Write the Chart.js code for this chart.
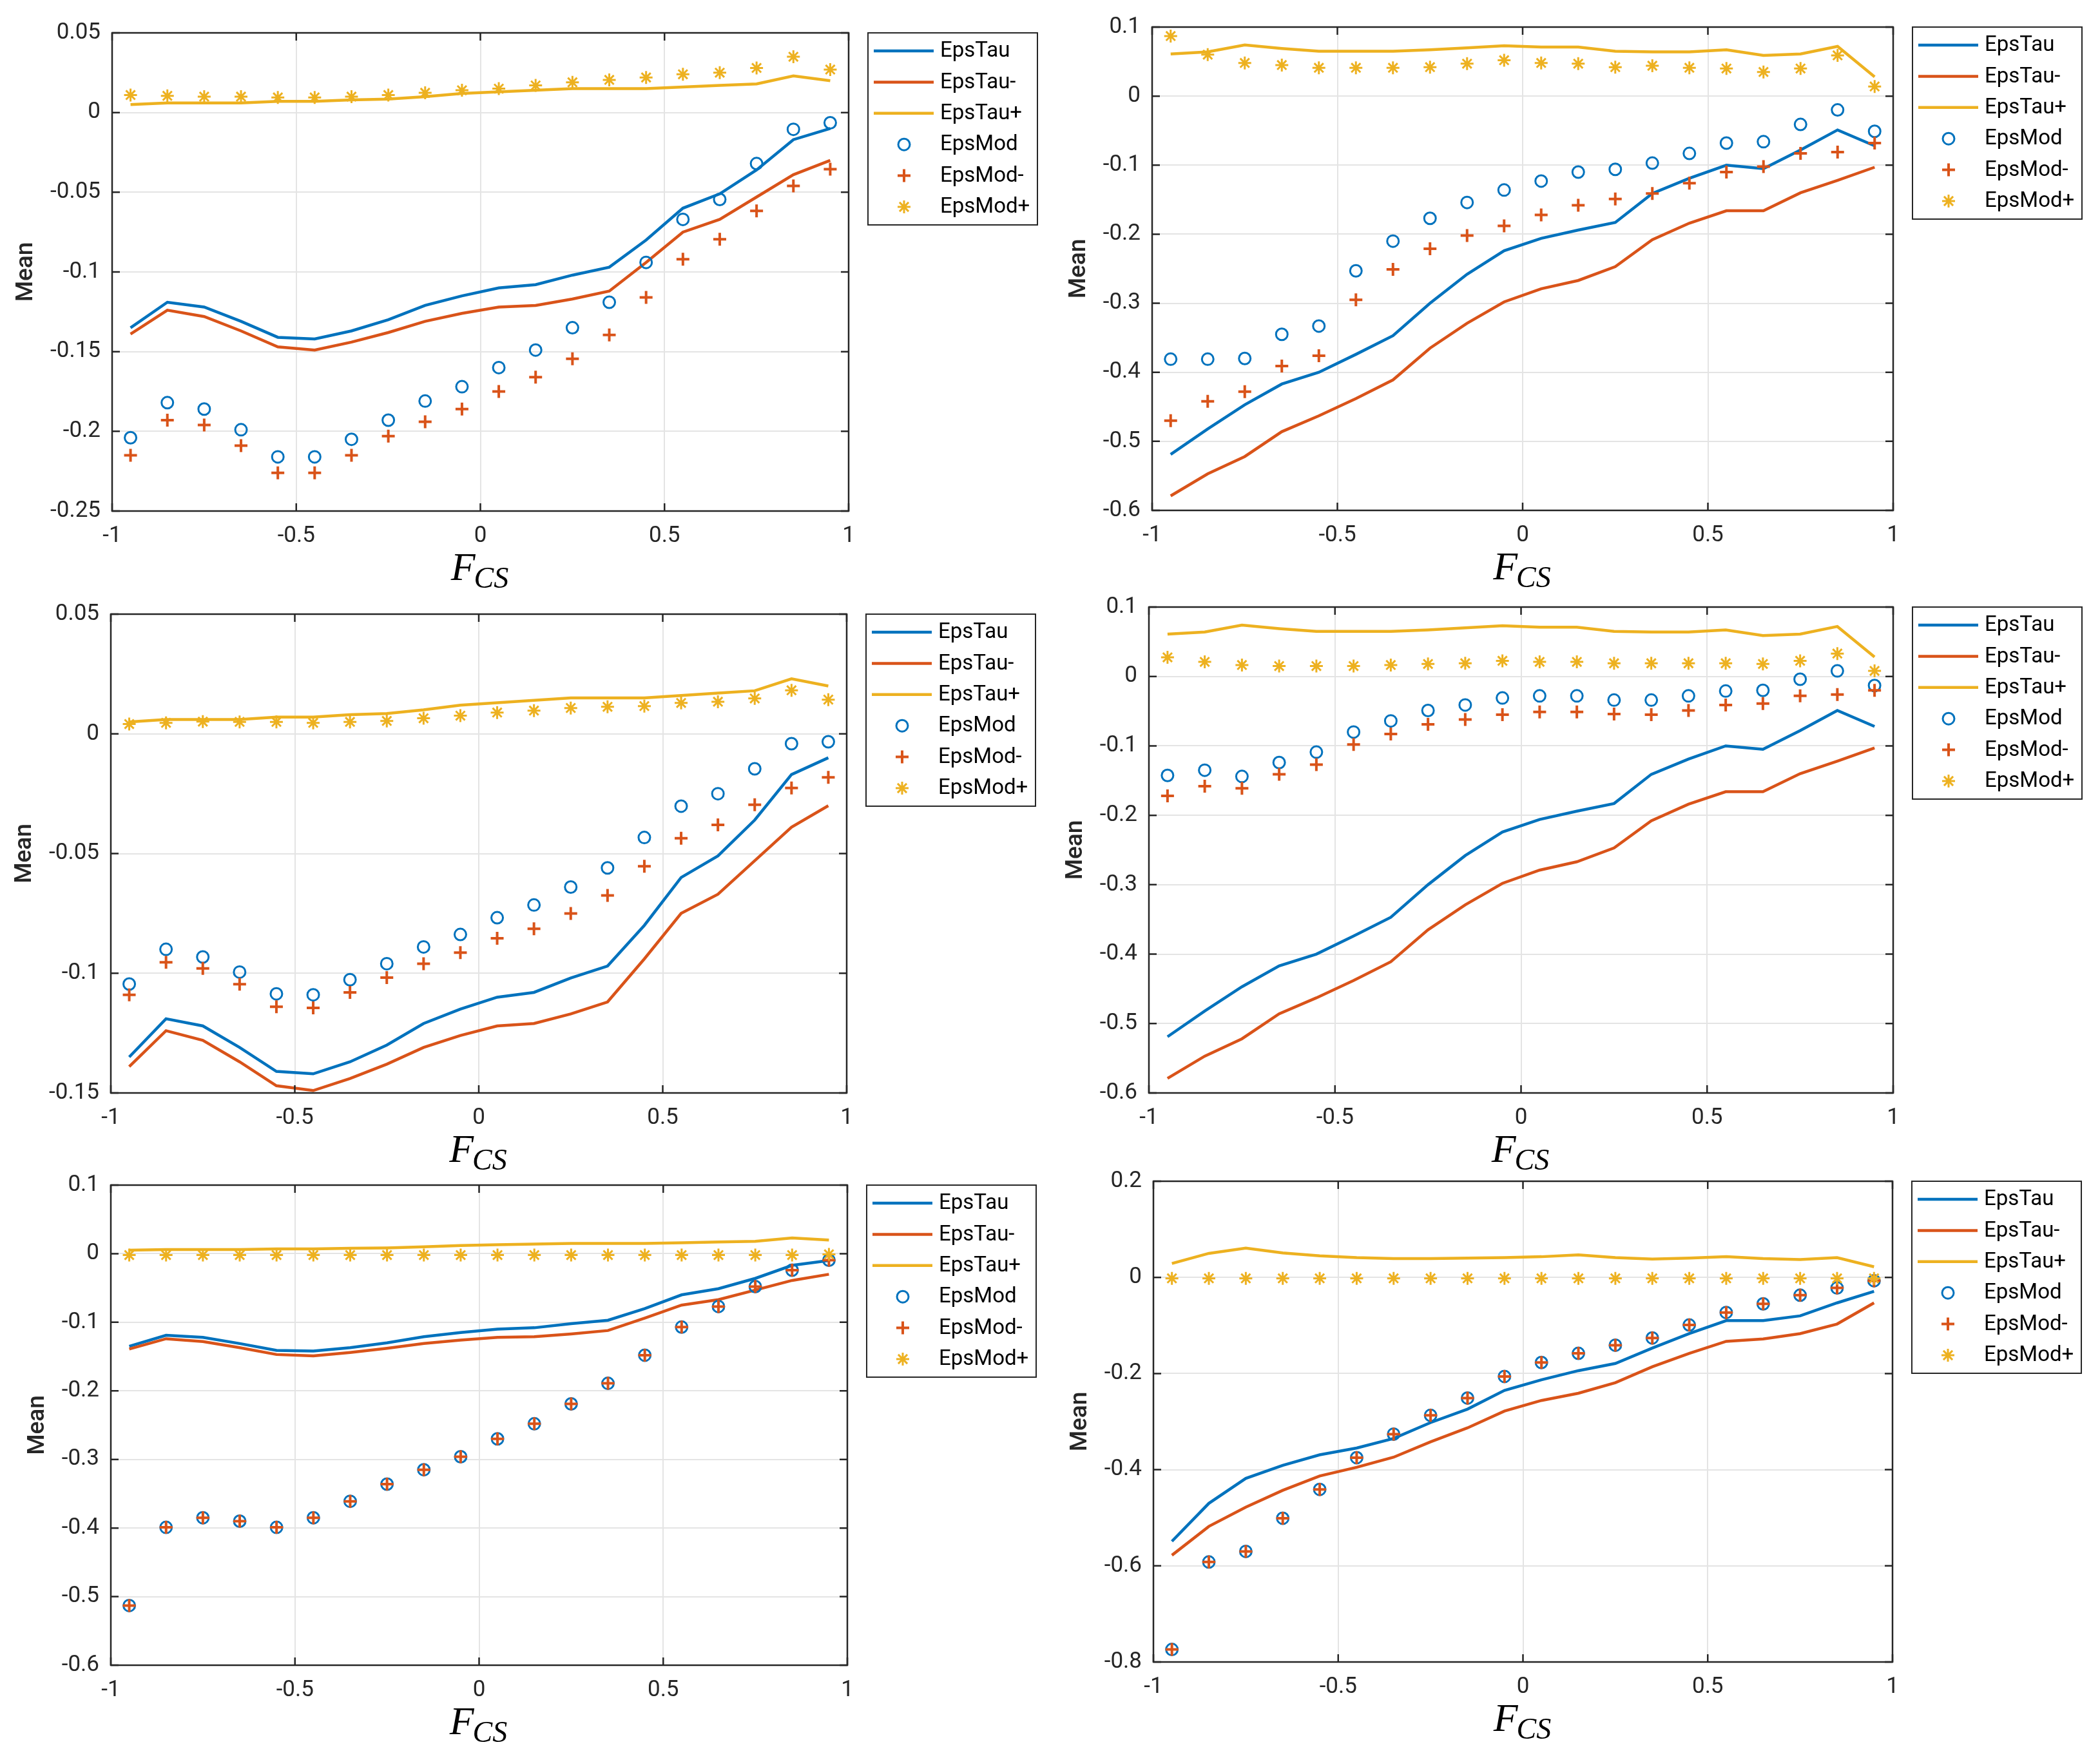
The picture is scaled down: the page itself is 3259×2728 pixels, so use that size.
<!DOCTYPE html>
<html>
<head>
<meta charset="utf-8">
<script src="https://cdn.jsdelivr.net/npm/chart.js@4.4.1/dist/chart.umd.min.js"></script>
<style>
html, body { margin: 0; padding: 0; background: #fff; }
#figure { position: relative; width: 3259px; height: 2728px; background: #fff; overflow: hidden; }
#figure canvas { position: absolute; }
</style>
</head>
<body>
<div id="figure"></div>
<script>
// ── Données ─────────────────────────────────────────────────────────────────

const FCS = [-0.95, -0.85, -0.75, -0.65, -0.55, -0.45, -0.35, -0.25, -0.15, -0.05,
              0.05,  0.15,  0.25,  0.35,  0.45,  0.55,  0.65,  0.75,  0.85,  0.95];

const LIBELLES = ['EpsTau', 'EpsTau-', 'EpsTau+', 'EpsMod', 'EpsMod-', 'EpsMod+'];

// courbes EpsTau communes aux graphiques 1, 3 et 5
const tauA      = [-0.135, -0.119, -0.122, -0.131, -0.141, -0.142, -0.137, -0.130, -0.121, -0.115,
                   -0.110, -0.108, -0.102, -0.097, -0.080, -0.060, -0.051, -0.036, -0.017, -0.010];
const tauAMoins = [-0.139, -0.124, -0.128, -0.137, -0.147, -0.149, -0.144, -0.138, -0.131, -0.126,
                   -0.122, -0.121, -0.117, -0.112, -0.094, -0.075, -0.067, -0.053, -0.039, -0.030];
const tauAPlus  = [0.005, 0.006, 0.006, 0.006, 0.007, 0.007, 0.008, 0.0085, 0.010, 0.012,
                   0.013, 0.014, 0.015, 0.015, 0.015, 0.016, 0.017, 0.018, 0.023, 0.020];

// courbes EpsTau communes aux graphiques 2 et 4
const tauB      = [-0.519, -0.482, -0.447, -0.417, -0.400, -0.374, -0.347, -0.300, -0.258, -0.224,
                   -0.206, -0.194, -0.183, -0.141, -0.119, -0.100, -0.105, -0.078, -0.049, -0.072];
const tauBMoins = [-0.579, -0.547, -0.522, -0.486, -0.463, -0.438, -0.411, -0.365, -0.329, -0.298,
                   -0.279, -0.267, -0.247, -0.208, -0.184, -0.166, -0.166, -0.140, -0.122, -0.103];
const tauBPlus  = [0.061, 0.064, 0.074, 0.069, 0.065, 0.065, 0.065, 0.067, 0.070, 0.073,
                   0.071, 0.071, 0.065, 0.064, 0.064, 0.067, 0.059, 0.061, 0.072, 0.028];

// courbes EpsTau du graphique 6
const tauC      = [-0.549, -0.470, -0.418, -0.391, -0.369, -0.355, -0.335, -0.302, -0.274, -0.235,
                   -0.213, -0.194, -0.179, -0.147, -0.117, -0.090, -0.090, -0.080, -0.053, -0.029];
const tauCMoins = [-0.578, -0.518, -0.478, -0.443, -0.413, -0.395, -0.374, -0.342, -0.313, -0.278,
                   -0.256, -0.241, -0.219, -0.186, -0.158, -0.133, -0.128, -0.117, -0.097, -0.053];
const tauCPlus  = [0.029, 0.050, 0.061, 0.051, 0.045, 0.041, 0.039, 0.039, 0.040, 0.041,
                   0.043, 0.047, 0.041, 0.038, 0.040, 0.043, 0.039, 0.037, 0.041, 0.022];

// marqueurs EpsMod, un trio par graphique
const mod1      = [-0.204, -0.182, -0.186, -0.199, -0.216, -0.216, -0.205, -0.193, -0.181, -0.172,
                   -0.160, -0.149, -0.135, -0.119, -0.094, -0.067, -0.0545, -0.032, -0.0105, -0.0064];
const mod1Moins = [-0.215, -0.193, -0.196, -0.209, -0.226, -0.226, -0.215, -0.203, -0.194, -0.186,
                   -0.175, -0.166, -0.1545, -0.1395, -0.116, -0.092, -0.0795, -0.0617, -0.046, -0.0355];
const mod1Plus  = [0.011, 0.0105, 0.010, 0.010, 0.0095, 0.0095, 0.010, 0.011, 0.0124, 0.014,
                   0.015, 0.017, 0.019, 0.0205, 0.022, 0.024, 0.025, 0.028, 0.035, 0.027];

const mod2      = [-0.381, -0.381, -0.380, -0.345, -0.333, -0.253, -0.210, -0.177, -0.154, -0.136,
                   -0.123, -0.110, -0.106, -0.097, -0.083, -0.068, -0.066, -0.041, -0.020, -0.051];
const mod2Moins = [-0.470, -0.442, -0.428, -0.391, -0.376, -0.295, -0.251, -0.221, -0.202, -0.188,
                   -0.172, -0.158, -0.149, -0.141, -0.126, -0.110, -0.102, -0.083, -0.081, -0.068];
const mod2Plus  = [0.087, 0.060, 0.048, 0.045, 0.041, 0.041, 0.041, 0.042, 0.047, 0.052,
                   0.048, 0.047, 0.042, 0.044, 0.041, 0.040, 0.035, 0.040, 0.059, 0.014];

const mod3      = [-0.1045, -0.090, -0.0932, -0.0995, -0.1086, -0.109, -0.1027, -0.096, -0.089, -0.0838,
                   -0.0768, -0.0715, -0.064, -0.056, -0.0433, -0.0302, -0.025, -0.0146, -0.0041, -0.0033];
const mod3Moins = [-0.109, -0.0954, -0.098, -0.1046, -0.114, -0.1145, -0.108, -0.1018, -0.096, -0.0914,
                   -0.0854, -0.0814, -0.075, -0.0675, -0.0553, -0.0436, -0.038, -0.0296, -0.0226, -0.0182];
const mod3Plus  = [0.0041, 0.0046, 0.0051, 0.005, 0.005, 0.0046, 0.005, 0.0054, 0.0065, 0.0076,
                   0.0089, 0.0097, 0.0108, 0.0113, 0.0116, 0.0129, 0.0134, 0.0148, 0.0182, 0.0143];

const mod4      = [-0.1425, -0.135, -0.144, -0.124, -0.109, -0.080, -0.064, -0.049, -0.041, -0.031,
                   -0.028, -0.028, -0.034, -0.034, -0.028, -0.021, -0.020, -0.004, 0.008, -0.013];
const mod4Moins = [-0.172, -0.158, -0.161, -0.141, -0.127, -0.098, -0.083, -0.069, -0.062, -0.055,
                   -0.051, -0.051, -0.054, -0.055, -0.049, -0.041, -0.039, -0.028, -0.026, -0.020];
const mod4Plus  = [0.0275, 0.021, 0.0165, 0.015, 0.015, 0.015, 0.0165, 0.018, 0.019, 0.0225,
                   0.021, 0.021, 0.019, 0.019, 0.019, 0.019, 0.018, 0.0225, 0.033, 0.008];

const mod5      = [-0.513, -0.399, -0.385, -0.390, -0.399, -0.385, -0.361, -0.336, -0.315, -0.296,
                   -0.270, -0.248, -0.219, -0.189, -0.148, -0.107, -0.077, -0.048, -0.024, -0.0095];
const mod5Moins = [-0.513, -0.399, -0.385, -0.390, -0.399, -0.385, -0.361, -0.336, -0.315, -0.296,
                   -0.270, -0.248, -0.219, -0.189, -0.148, -0.107, -0.077, -0.048, -0.024, -0.0095];
const mod5Plus  = [-0.002, -0.002, -0.002, -0.002, -0.002, -0.002, -0.002, -0.002, -0.002, -0.002,
                   -0.002, -0.002, -0.002, -0.002, -0.002, -0.002, -0.002, -0.002, -0.002, -0.001];

const mod6      = [-0.774, -0.592, -0.570, -0.501, -0.441, -0.375, -0.326, -0.287, -0.251, -0.206,
                   -0.177, -0.158, -0.141, -0.126, -0.099, -0.073, -0.055, -0.037, -0.022, -0.007];
const mod6Moins = [-0.774, -0.592, -0.570, -0.501, -0.441, -0.375, -0.326, -0.287, -0.251, -0.206,
                   -0.177, -0.158, -0.141, -0.126, -0.099, -0.073, -0.055, -0.037, -0.022, -0.007];
const mod6Plus  = [-0.002, -0.002, -0.002, -0.002, -0.002, -0.002, -0.002, -0.002, -0.002, -0.002,
                   -0.002, -0.002, -0.002, -0.002, -0.002, -0.002, -0.002, -0.002, -0.002, -0.002];

// ── Style ───────────────────────────────────────────────────────────────────

const COULEURS = ['#0072BD', '#D95319', '#EDB120'];
const MARQUEURS = ['line', 'line', 'line', 'circle', 'cross', 'star'];
const GRIS_AXE = '#262626';
const POLICE = 'Roboto, "Noto Sans", sans-serif';

// cadre de chaque graphique [gauche, haut, droite, bas] en pixels de la figure
const GRAPHIQUES = [
    { cadre: [174, 51, 1317, 793],    y: [-0.25, 0.05, 0.05], series: [tauA, tauAMoins, tauAPlus, mod1, mod1Moins, mod1Plus] },
    { cadre: [1788, 42, 2938, 792],   y: [-0.6, 0.1, 0.1],    series: [tauB, tauBMoins, tauBPlus, mod2, mod2Moins, mod2Plus] },
    { cadre: [172, 953, 1314, 1696],  y: [-0.15, 0.05, 0.05], series: [tauA, tauAMoins, tauAPlus, mod3, mod3Moins, mod3Plus] },
    { cadre: [1783, 942, 2938, 1696], y: [-0.6, 0.1, 0.1],    series: [tauB, tauBMoins, tauBPlus, mod4, mod4Moins, mod4Plus] },
    { cadre: [172, 1839, 1315, 2584], y: [-0.6, 0.1, 0.1],    series: [tauA, tauAMoins, tauAPlus, mod5, mod5Moins, mod5Plus] },
    { cadre: [1790, 1833, 2937, 2579], y: [-0.8, 0.2, 0.2],   series: [tauC, tauCMoins, tauCPlus, mod6, mod6Moins, mod6Plus] },
];

const MARGE_G = 174, MARGE_H = 50, MARGE_D = 340, MARGE_B = 140;

function formaterTick(v) {
    return String(Math.round(v * 1000) / 1000);
}

function construireJeux(series) {
    return series.map((valeurs, i) => {
        const estLigne = i < 3;
        const couleur = COULEURS[i % 3];
        return {
            label: LIBELLES[i],
            data: FCS.map((x, k) => ({ x, y: valeurs[k] })),
            showLine: estLigne,
            borderColor: couleur,
            backgroundColor: couleur,
            borderWidth: 4.5,
            tension: 0,
            pointStyle: estLigne ? false : MARQUEURS[i],
            pointRadius: estLigne ? 0 : (i === 3 ? 9 : 10),
            pointHoverRadius: estLigne ? 0 : 10,
            pointBorderWidth: i === 4 ? 4 : 3,
            pointBorderColor: couleur,
            pointBackgroundColor: 'rgba(0,0,0,0)',
            order: 6 - i,
        };
    });
}

function dessinerMarqueur(ctx, style, x, y, r) {
    ctx.beginPath();
    if (style === 'circle') {
        ctx.arc(x, y, r, 0, Math.PI * 2);
    } else {
        ctx.moveTo(x - r, y); ctx.lineTo(x + r, y);
        ctx.moveTo(x, y - r); ctx.lineTo(x, y + r);
        if (style === 'star') {
            const d = r * Math.SQRT1_2;
            ctx.moveTo(x - d, y - d); ctx.lineTo(x + d, y + d);
            ctx.moveTo(x - d, y + d); ctx.lineTo(x + d, y - d);
        }
    }
    ctx.stroke();
}

// Cadre, graduations intérieures, titres d'axes et légende façon MATLAB
const habillage = {
    id: 'habillage',
    afterDraw(chart) {
        const { ctx, chartArea: a, scales: { x, y } } = chart;
        ctx.save();

        // graduations vers l'intérieur sur les quatre côtés
        ctx.strokeStyle = GRIS_AXE;
        ctx.lineWidth = 2.5;
        const L = 12;
        ctx.beginPath();
        x.ticks.forEach(t => {
            const px = x.getPixelForValue(t.value);
            ctx.moveTo(px, a.bottom); ctx.lineTo(px, a.bottom - L);
            ctx.moveTo(px, a.top);    ctx.lineTo(px, a.top + L);
        });
        y.ticks.forEach(t => {
            const py = y.getPixelForValue(t.value);
            ctx.moveTo(a.left, py);  ctx.lineTo(a.left + L, py);
            ctx.moveTo(a.right, py); ctx.lineTo(a.right - L, py);
        });
        ctx.stroke();
        ctx.strokeRect(a.left, a.top, a.right - a.left, a.bottom - a.top);

        // titre de l'axe y
        ctx.font = '35px ' + POLICE;
        const largeurMax = Math.max(...y.ticks.map(t => ctx.measureText(formaterTick(t.value)).width));
        const xTitre = a.left - 18 - largeurMax - 37;
        ctx.save();
        ctx.translate(xTitre, (a.top + a.bottom) / 2);
        ctx.rotate(-Math.PI / 2);
        ctx.font = '500 37px ' + POLICE;
        ctx.fillStyle = GRIS_AXE;
        ctx.textAlign = 'center';
        ctx.textBaseline = 'middle';
        ctx.fillText('Mean', 0, 0);
        ctx.restore();

        // titre de l'axe x : F indice CS
        const policeF = 'italic 62px "Liberation Serif", "DejaVu Serif", serif';
        const policeCS = 'italic 46px "Liberation Serif", "DejaVu Serif", serif';
        ctx.font = policeF;
        const lF = ctx.measureText('F').width;
        ctx.font = policeCS;
        const lCS = ctx.measureText('CS').width;
        const debut = (a.left + a.right) / 2 - (lF + lCS) / 2;
        ctx.fillStyle = '#000';
        ctx.textAlign = 'left';
        ctx.textBaseline = 'alphabetic';
        ctx.font = policeF;
        ctx.fillText('F', debut, a.bottom + 107);
        ctx.font = policeCS;
        ctx.fillText('CS', debut + lF - 2, a.bottom + 119);

        // légende
        const bx = a.right + 30, by = a.top, bl = 263, bh = 298;
        ctx.fillStyle = '#fff';
        ctx.fillRect(bx, by, bl, bh);
        ctx.strokeStyle = GRIS_AXE;
        ctx.lineWidth = 2;
        ctx.strokeRect(bx, by, bl, bh);
        ctx.font = '33px ' + POLICE;
        ctx.textBaseline = 'middle';
        chart.data.datasets.forEach((jeu, i) => {
            const ly = by + 28 + i * 48.4;
            ctx.strokeStyle = jeu.borderColor;
            if (jeu.showLine) {
                ctx.lineWidth = jeu.borderWidth;
                ctx.beginPath();
                ctx.moveTo(bx + 9, ly); ctx.lineTo(bx + 102, ly);
                ctx.stroke();
            } else {
                ctx.lineWidth = jeu.pointBorderWidth;
                dessinerMarqueur(ctx, jeu.pointStyle, bx + 56, ly, jeu.pointRadius);
            }
            ctx.fillStyle = '#000';
            ctx.fillText(jeu.label, bx + 112, ly + 1);
        });

        ctx.restore();
    }
};

function creerGraphique(def) {
    const [g, h, d, b] = def.cadre;
    const [yMin, yMax, yPas] = def.y;
    const canvas = document.createElement('canvas');
    const largeur = MARGE_G + (d - g) + MARGE_D;
    const hauteur = MARGE_H + (b - h) + MARGE_B;
    canvas.width = largeur;
    canvas.height = hauteur;
    canvas.style.left = (g - MARGE_G) + 'px';
    canvas.style.top = (h - MARGE_H) + 'px';
    canvas.style.width = largeur + 'px';
    canvas.style.height = hauteur + 'px';
    document.getElementById('figure').appendChild(canvas);

    const grille = { color: '#e4e4e4', lineWidth: 2, drawTicks: false };
    const ticks = { color: GRIS_AXE, font: { family: POLICE, size: 35 }, padding: 18, callback: formaterTick };

    new Chart(canvas, {
        type: 'scatter',
        data: { datasets: construireJeux(def.series) },
        options: {
            responsive: false,
            animation: false,
            devicePixelRatio: 1,
            layout: { padding: { left: 0, top: MARGE_H, right: MARGE_D, bottom: 0 } },
            plugins: { legend: { display: false }, tooltip: { enabled: false } },
            scales: {
                x: {
                    type: 'linear', min: -1, max: 1,
                    ticks: { ...ticks, stepSize: 0.5, autoSkip: false, maxRotation: 0 },
                    grid: grille, border: { display: false },
                    afterFit: s => { s.height = MARGE_B; },
                },
                y: {
                    type: 'linear', min: yMin, max: yMax,
                    ticks: { ...ticks, stepSize: yPas, autoSkip: false },
                    grid: grille, border: { display: false },
                    afterFit: s => { s.width = MARGE_G; },
                },
            },
        },
        plugins: [habillage],
    });
}

GRAPHIQUES.forEach(creerGraphique);
</script>
</body>
</html>
